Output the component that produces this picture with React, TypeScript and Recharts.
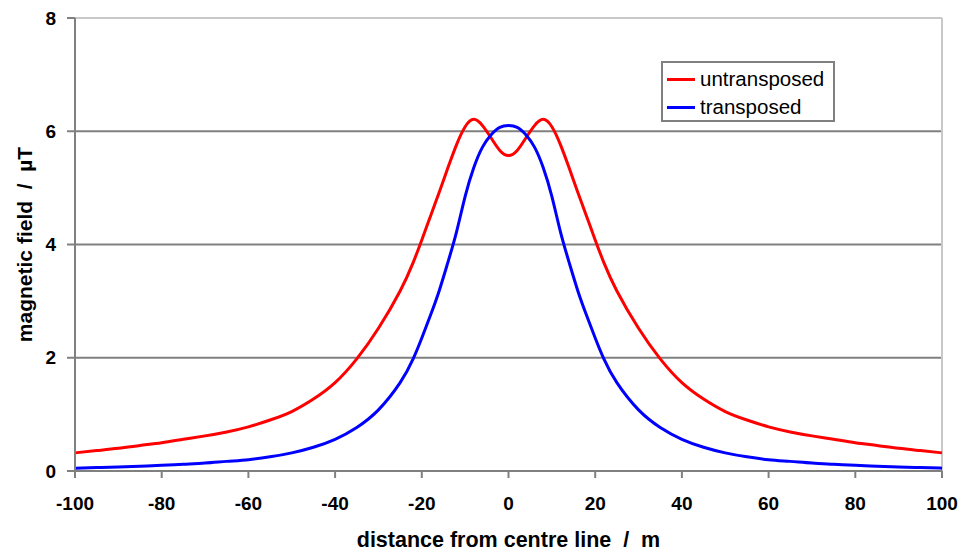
import React from 'react';
import {
  LineChart,
  Line,
  XAxis,
  YAxis,
  ReferenceLine,
  Legend,
} from 'recharts';

// distance from centre line (m)
const distance = [
  -100, -95, -90, -85, -80, -75, -70, -65, -60, -55, -50, -45, -40, -35, -30, -25,
  -22, -20, -18, -16, -14, -12, -10, -8, -6, -4, -2,
  0,
  2, 4, 6, 8, 10, 12, 14, 16, 18, 20, 22,
  25, 30, 35, 40, 45, 50, 55, 60, 65, 70, 75, 80, 85, 90, 95, 100,
];

// magnetic field (uT)
const untransposed = [
  0.32, 0.36, 0.40, 0.45, 0.50, 0.56, 0.62, 0.69, 0.78, 0.90, 1.05, 1.27, 1.56, 1.98, 2.52, 3.18,
  3.68, 4.08, 4.50, 4.92, 5.35, 5.76, 6.08, 6.21, 6.10, 5.88, 5.66,
  5.57,
  5.66, 5.88, 6.10, 6.21, 6.08, 5.76, 5.35, 4.92, 4.50, 4.08, 3.68,
  3.18, 2.52, 1.98, 1.56, 1.27, 1.05, 0.90, 0.78, 0.69, 0.62, 0.56, 0.50, 0.45, 0.40, 0.36, 0.32,
];

const transposed = [
  0.05, 0.06, 0.07, 0.085, 0.10, 0.12, 0.14, 0.17, 0.20, 0.25, 0.32, 0.42, 0.56, 0.77, 1.08, 1.56,
  1.98, 2.35, 2.75, 3.18, 3.68, 4.22, 4.85, 5.36, 5.72, 5.94, 6.07,
  6.10,
  6.07, 5.94, 5.72, 5.36, 4.85, 4.22, 3.68, 3.18, 2.75, 2.35, 1.98,
  1.56, 1.08, 0.77, 0.56, 0.42, 0.32, 0.25, 0.20, 0.17, 0.14, 0.12, 0.10, 0.085, 0.07, 0.06, 0.05,
];

const seriesNames = ['untransposed', 'transposed'];
const xTicks = [-100, -80, -60, -40, -20, 0, 20, 40, 60, 80, 100];
const yTicks = [0, 2, 4, 6, 8];
const gridValues = [2, 4, 6];

const data = distance.map((d, i) => ({
  distance: d,
  untransposed: untransposed[i],
  transposed: transposed[i],
}));

const FONT = '"Liberation Sans", Arial, sans-serif';
const AXIS_GREY = '#808080';

interface LegendRow {
  value?: string;
  color?: string;
}

const renderLegend = (props: { payload?: LegendRow[] }) => {
  const rows = [...(props.payload || [])].sort(
    (a, b) => seriesNames.indexOf(a.value || '') - seriesNames.indexOf(b.value || ''),
  );
  return (
    <div
      style={{
        border: `2px solid ${AXIS_GREY}`,
        background: '#fff',
        width: 174,
        height: 61,
        boxSizing: 'border-box',
        padding: '2px 0 0 4px',
        fontFamily: FONT,
        fontSize: 20.5,
        lineHeight: '28px',
        color: '#000',
      }}
    >
      {rows.map((r) => (
        <div key={r.value} style={{ display: 'flex', alignItems: 'center', height: 28 }}>
          <span style={{ display: 'inline-block', width: 28, height: 3, background: r.color, marginRight: 5 }} />
          <span>{r.value}</span>
        </div>
      ))}
    </div>
  );
};

const YTitle = (props: { viewBox?: { x: number; y: number; width: number; height: number } }) => {
  const vb = props.viewBox || { x: 0, y: 0, width: 0, height: 0 };
  const cx = 24;
  const cy = vb.y + vb.height / 2;
  return (
    <text
      x={cx}
      y={cy}
      transform={`rotate(-90 ${cx} ${cy})`}
      textAnchor="middle"
      dominantBaseline="central"
      fontFamily={FONT}
      fontWeight="bold"
      fontSize={21}
      fill="#000"
    >
      {'magnetic field \u00a0/\u00a0 µT'}
    </text>
  );
};

export default function App() {
  return (
    <div style={{ position: 'fixed', left: 0, top: 0, width: 961, height: 552, background: '#fff' }}>
      <LineChart
        width={961}
        height={552}
        data={data}
        margin={{ top: 18, right: 19, left: 0, bottom: 0 }}
      >
        <XAxis
          dataKey="distance"
          type="number"
          domain={[-100, 100]}
          ticks={xTicks}
          height={81}
          stroke={AXIS_GREY}
          strokeWidth={2}
          tickSize={7}
          tickMargin={19}
          tick={{ fill: '#000', fontFamily: FONT, fontWeight: 'bold', fontSize: 19 }}
          label={{
            value: 'distance from centre line \u00a0/\u00a0 m',
            position: 'insideBottom',
            offset: 5,
            fill: '#000',
            fontFamily: FONT,
            fontWeight: 'bold',
            fontSize: 21.5,
          }}
        />
        <YAxis
          type="number"
          domain={[0, 8]}
          ticks={yTicks}
          width={75}
          stroke={AXIS_GREY}
          strokeWidth={2}
          tickSize={8}
          tickMargin={11}
          tick={{ fill: '#000', fontFamily: FONT, fontWeight: 'bold', fontSize: 19 }}
          label={<YTitle />}
        />
        {gridValues.map((v) => (
          <ReferenceLine key={v} y={v} stroke={AXIS_GREY} strokeWidth={2} />
        ))}
        <ReferenceLine y={8} stroke="#c8c8c8" strokeWidth={2} />
        <ReferenceLine x={100} stroke="#c8c8c8" strokeWidth={2} />
        <Legend
          layout="vertical"
          align="center"
          verticalAlign="middle"
          content={renderLegend as any}
          wrapperStyle={{ position: 'absolute', left: 661, top: 61, width: 174, height: 61 }}
        />
        <Line
          type="natural"
          dataKey="untransposed"
          name="untransposed"
          stroke="#ff0000"
          strokeWidth={3}
          dot={false}
          isAnimationActive={false}
        />
        <Line
          type="natural"
          dataKey="transposed"
          name="transposed"
          stroke="#0000ff"
          strokeWidth={3}
          dot={false}
          isAnimationActive={false}
        />
      </LineChart>
    </div>
  );
}
